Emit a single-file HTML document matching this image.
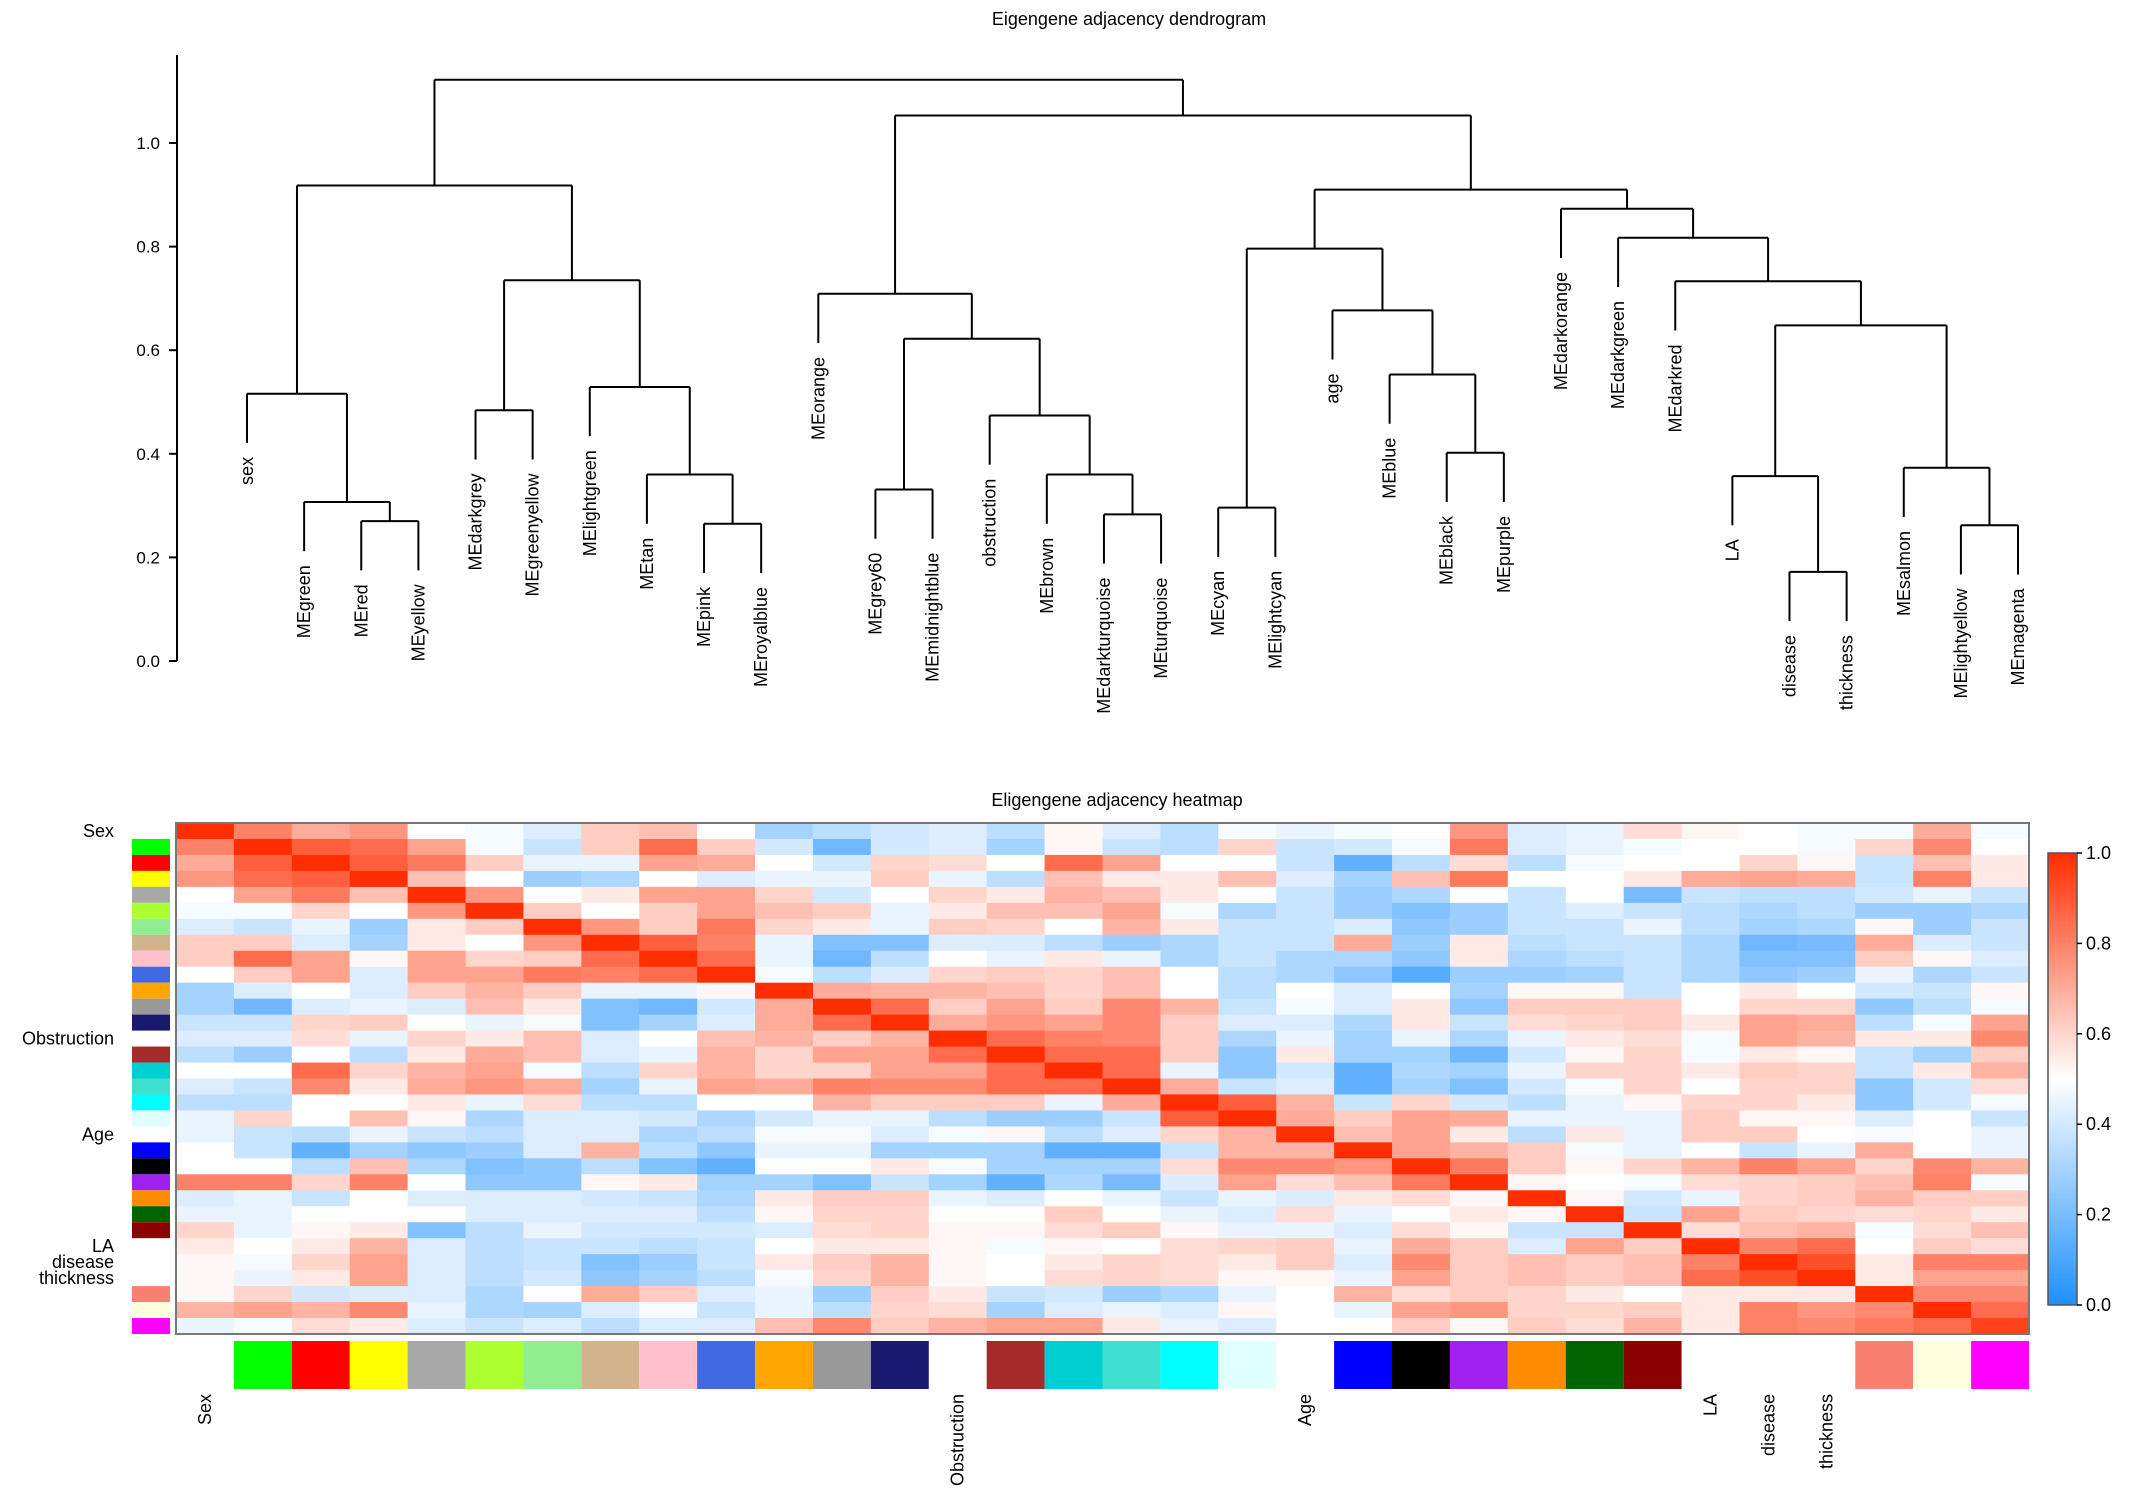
<!DOCTYPE html>
<html><head><meta charset="utf-8">
<style>
html,body{margin:0;padding:0;background:#fff;}
svg{display:block;font-family:"Liberation Sans",sans-serif;}
</style></head>
<body>
<svg id="chart" width="2150" height="1504" viewBox="0 0 2150 1504" xmlns="http://www.w3.org/2000/svg">
<text x="1129" y="25" font-size="18" text-anchor="middle">Eigengene adjacency dendrogram</text>
<text x="1117" y="806" font-size="18" text-anchor="middle">Eligengene adjacency heatmap</text>
<g id="dend"></g>
<g id="heat"></g>
<g id="cbar"></g>
</svg>
<script>
const leafLabels=["sex","MEgreen","MEred","MEyellow","MEdarkgrey","MEgreenyellow","MElightgreen","MEtan","MEpink","MEroyalblue","MEorange","MEgrey60","MEmidnightblue","obstruction","MEbrown","MEdarkturquoise","MEturquoise","MEcyan","MElightcyan","age","MEblue","MEblack","MEpurple","MEdarkorange","MEdarkgreen","MEdarkred","LA","disease","thickness","MEsalmon","MElightyellow","MEmagenta"];
const mergeLeft=[-3,-2,-1,-5,-9,-8,-7,4,3,-12,-16,-15,-14,10,-11,-18,-22,-21,-20,16,-28,-27,-31,-30,22,-26,-25,-24,20,15,9];
const mergeRight=[-4,1,2,-6,-10,5,6,7,8,-13,-17,11,12,13,14,-19,-23,17,18,19,-29,21,-32,23,24,25,26,27,28,29,30];
const mergeHeight=[.27,.307,.516,.484,.265,.36,.529,.735,.918,.331,.283,.36,.474,.622,.709,.296,.402,.553,.677,.796,.172,.357,.262,.373,.648,.733,.817,.873,.910,1.053,1.122];
const yTicks=[0,0.2,0.4,0.6,0.8,1.0];

const rowLabels=["Sex","","","","","","","","","","","","","Obstruction","","","","","","Age","","","","","","","LA","disease","thickness","","",""];
const moduleColors=[null,"#00ff00","#ff0000","#ffff00","#a9a9a9","#adff2f","#90ee90","#d2b48c","#ffc0cb","#4169e1","#ffa500","#999999","#191970",null,"#a52a2a","#00ced1","#40e0d0","#00ffff","#e0ffff",null,"#0000ff","#000000","#a020f0","#ff8c00","#006400","#8b0000",null,null,null,"#fa8072","#ffffe0","#ff00ff"];
const adj=[
[1.0,.8,.7,.75,.5,.48,.42,.62,.65,.5,.3,.35,.4,.42,.35,.52,.42,.35,.48,.45,.48,.5,.75,.42,.45,.58,.52,.5,.48,.48,.7,.48],
[.8,1.0,.88,.85,.72,.48,.38,.62,.85,.62,.4,.18,.4,.42,.3,.52,.38,.35,.6,.38,.4,.48,.82,.42,.45,.48,.5,.5,.48,.6,.78,.5],
[.7,.88,1.0,.88,.82,.62,.45,.45,.72,.7,.5,.4,.6,.58,.5,.85,.72,.5,.5,.38,.15,.35,.58,.35,.48,.5,.5,.6,.52,.38,.65,.55],
[.75,.85,.88,1.0,.65,.5,.28,.32,.5,.42,.45,.45,.62,.45,.35,.65,.55,.55,.65,.42,.3,.65,.82,.5,.5,.55,.7,.72,.7,.38,.8,.55],
[.5,.72,.82,.65,1.0,.75,.5,.55,.72,.72,.6,.4,.5,.6,.55,.68,.65,.55,.5,.38,.28,.32,.5,.38,.5,.2,.38,.35,.35,.4,.45,.38],
[.48,.48,.6,.5,.75,1.0,.62,.5,.62,.72,.65,.62,.45,.55,.65,.65,.72,.48,.32,.38,.28,.22,.28,.38,.42,.38,.35,.32,.35,.28,.28,.32],
[.42,.38,.45,.28,.55,.62,1.0,.75,.62,.82,.6,.55,.45,.62,.6,.5,.68,.55,.38,.38,.42,.25,.28,.38,.38,.45,.35,.3,.32,.52,.28,.38],
[.62,.62,.42,.3,.55,.5,.75,1.0,.88,.8,.45,.22,.22,.42,.42,.35,.28,.32,.38,.38,.7,.28,.55,.35,.38,.38,.32,.18,.2,.7,.42,.38],
[.62,.85,.72,.52,.72,.6,.62,.85,1.0,.85,.45,.18,.35,.5,.45,.55,.45,.32,.38,.32,.32,.25,.55,.32,.35,.38,.32,.22,.22,.62,.52,.42],
[.5,.62,.72,.42,.72,.72,.82,.8,.85,1.0,.48,.35,.42,.6,.62,.6,.65,.5,.35,.32,.25,.12,.28,.28,.3,.38,.32,.25,.28,.45,.32,.38],
[.3,.42,.5,.42,.62,.68,.62,.45,.45,.52,1.0,.7,.68,.68,.65,.6,.65,.5,.35,.5,.42,.5,.3,.52,.52,.38,.5,.55,.5,.4,.38,.52],
[.3,.18,.42,.45,.42,.65,.55,.22,.18,.4,.7,1.0,.85,.62,.72,.62,.78,.68,.38,.48,.42,.55,.25,.62,.62,.62,.5,.6,.6,.25,.35,.48],
[.38,.38,.6,.62,.5,.45,.48,.22,.3,.42,.7,.85,1.0,.7,.75,.72,.78,.62,.42,.42,.32,.55,.38,.58,.6,.62,.55,.72,.7,.35,.48,.72],
[.42,.42,.58,.45,.6,.55,.65,.42,.5,.65,.68,.62,.68,1.0,.85,.8,.78,.62,.32,.45,.3,.45,.32,.45,.55,.58,.48,.72,.68,.55,.55,.78],
[.35,.28,.5,.35,.55,.7,.65,.42,.45,.68,.6,.72,.72,.85,1.0,.85,.85,.62,.25,.55,.3,.3,.18,.4,.52,.6,.48,.55,.52,.38,.3,.62],
[.5,.5,.85,.6,.68,.72,.48,.35,.6,.68,.6,.6,.72,.72,.85,1.0,.85,.45,.25,.4,.15,.32,.3,.45,.6,.6,.55,.62,.6,.38,.55,.68],
[.42,.38,.78,.55,.7,.75,.7,.3,.45,.72,.7,.8,.78,.78,.85,.85,1.0,.7,.38,.42,.15,.3,.22,.4,.48,.6,.5,.6,.6,.25,.4,.58],
[.35,.35,.5,.5,.55,.45,.58,.35,.35,.5,.5,.68,.62,.62,.62,.45,.7,1.0,.88,.68,.38,.6,.4,.35,.45,.52,.6,.6,.55,.25,.4,.48],
[.45,.6,.5,.65,.52,.32,.42,.42,.4,.32,.4,.45,.45,.35,.28,.28,.38,.88,1.0,.7,.62,.72,.7,.45,.45,.45,.62,.52,.52,.42,.5,.38],
[.45,.38,.35,.45,.38,.35,.42,.42,.32,.35,.48,.48,.42,.48,.52,.35,.42,.6,.68,1.0,.65,.72,.55,.35,.55,.45,.62,.62,.5,.48,.5,.45],
[.5,.38,.15,.3,.25,.28,.42,.68,.35,.25,.45,.45,.3,.3,.3,.15,.15,.38,.68,.68,1.0,.72,.68,.62,.48,.45,.5,.38,.45,.7,.5,.45],
[.5,.5,.35,.65,.32,.22,.25,.35,.22,.15,.5,.5,.55,.48,.3,.3,.3,.58,.78,.78,.75,1.0,.82,.62,.52,.6,.68,.8,.72,.6,.78,.68],
[.8,.8,.6,.8,.5,.25,.25,.52,.55,.3,.3,.22,.38,.3,.15,.32,.2,.42,.72,.58,.65,.82,1.0,.52,.5,.48,.58,.6,.62,.65,.8,.48],
[.42,.45,.38,.5,.42,.42,.42,.4,.38,.32,.55,.62,.62,.45,.42,.5,.45,.38,.45,.42,.55,.58,.52,1.0,.52,.4,.45,.6,.62,.68,.62,.62],
[.45,.45,.5,.5,.5,.42,.42,.42,.42,.35,.52,.6,.6,.5,.5,.62,.5,.45,.42,.58,.45,.5,.55,.52,1.0,.38,.72,.62,.6,.58,.6,.55],
[.6,.45,.52,.55,.22,.35,.45,.4,.4,.4,.42,.58,.6,.52,.52,.58,.62,.52,.45,.45,.42,.58,.52,.38,.38,1.0,.58,.65,.68,.48,.58,.65],
[.55,.5,.55,.68,.42,.35,.38,.38,.35,.38,.5,.55,.55,.52,.48,.52,.5,.58,.6,.62,.45,.7,.62,.42,.72,.62,1.0,.8,.85,.5,.62,.58],
[.52,.48,.6,.72,.42,.35,.38,.22,.28,.38,.55,.62,.68,.52,.5,.55,.6,.58,.55,.62,.42,.78,.62,.65,.62,.65,.8,1.0,.92,.55,.8,.8],
[.52,.45,.55,.72,.42,.35,.4,.25,.3,.35,.48,.6,.68,.52,.5,.58,.6,.58,.52,.52,.45,.72,.62,.65,.62,.65,.85,.92,1.0,.55,.72,.72],
[.52,.6,.4,.42,.42,.32,.5,.7,.62,.42,.45,.28,.62,.55,.38,.4,.28,.32,.45,.5,.68,.58,.62,.6,.55,.5,.55,.55,.55,1.0,.78,.78],
[.68,.72,.68,.78,.45,.32,.3,.42,.48,.38,.45,.35,.6,.58,.3,.42,.45,.42,.52,.5,.45,.72,.75,.6,.6,.62,.55,.8,.75,.78,1.0,.85],
[.45,.48,.58,.55,.42,.38,.42,.35,.42,.42,.65,.78,.62,.68,.72,.72,.55,.45,.42,.5,.5,.62,.52,.62,.58,.68,.55,.8,.78,.82,.85,.95]
];
const cbarTicks=[0,0.2,0.4,0.6,0.8,1.0];

const NS="http://www.w3.org/2000/svg";
function mk(tag,attrs,parent){const e=document.createElementNS(NS,tag);for(const k in attrs)e.setAttribute(k,attrs[k]);parent.appendChild(e);return e;}

// ---------- dendrogram ----------
const dend=document.getElementById('dend');
const leafX0=247, leafStep=57.13;
const yD=h=>661-h*518;
const hang=0.095;
const xL=i=>leafX0+i*leafStep;
// axis
const ax=mk('line',{x1:177,y1:55,x2:177,y2:yD(0),stroke:'#000','stroke-width':2},dend);


yTicks.forEach(t=>{
  const tk=mk('line',{x1:169,y1:yD(t),x2:177,y2:yD(t),stroke:'#000','stroke-width':2},dend);
  
  
  const tl=mk('text',{x:160,y:yD(t)+6,'font-size':17,'text-anchor':'end'},dend);
  tl.textContent=t.toFixed(1);
  
  
});
const nodeX=[], nodeH=[];
function childInfo(c){ if(c<0) return {x:xL(-c-1),leaf:true,i:-c-1}; return {x:nodeX[c-1],h:nodeH[c-1],leaf:false}; }
for(let m=0;m<mergeHeight.length;m++){
  const h=mergeHeight[m];
  const a=childInfo(mergeLeft[m]), b=childInfo(mergeRight[m]);
  nodeX.push((a.x+b.x)/2); nodeH.push(h);
  const y=yD(h);
  const hl=mk('line',{x1:a.x,y1:y,x2:b.x,y2:y,stroke:'#000','stroke-width':2},dend);
  
  
  [a,b].forEach(c=>{
    const yEnd=c.leaf?yD(h-hang):yD(c.h);
    const vl=mk('line',{x1:c.x,y1:y,x2:c.x,y2:yEnd,stroke:'#000','stroke-width':2},dend);
    
    
    if(c.leaf){
      const lt=mk('text',{transform:`translate(${c.x+6},${yEnd+14}) rotate(-90)`,'font-size':18,'text-anchor':'end'},dend);
      lt.textContent=leafLabels[c.i];
      
      
    }
  });
}

// ---------- heatmap ----------
const heat=document.getElementById('heat');
const hx0=176,hx1=2029,hy0=823,hy1=1334;
const n=adj.length, cw=(hx1-hx0)/n, ch=(hy1-hy0)/n;
function colorFor(v){
  const blue=[30,144,255], white=[255,255,255], red=[255,45,0];
  let c;
  if(v<=0.5){const t=v/0.5;c=blue.map((b,i)=>b+(white[i]-b)*t);}
  else{const t=(v-0.5)/0.5;c=white.map((w,i)=>w+(red[i]-w)*t);}
  return `rgb(${c.map(Math.round).join(',')})`;
}
for(let r=0;r<n;r++)for(let c=0;c<n;c++){
  const cell=mk('rect',{x:hx0+c*cw,y:hy0+r*ch,width:cw+0.6,height:ch+0.6,fill:colorFor(adj[r][c])},heat);
  
  
}
const fr=mk('rect',{x:hx0,y:hy0,width:hx1-hx0,height:hy1-hy0,fill:'none',stroke:'#777','stroke-width':2},heat);


for(let i=0;i<n;i++){
  if(moduleColors[i]){
    const ls=mk('rect',{x:132,y:hy0+i*ch,width:38,height:ch,fill:moduleColors[i]},heat);
    
    
    const bs=mk('rect',{x:hx0+i*cw,y:1341,width:cw,height:48,fill:moduleColors[i]},heat);
    
    
  }
  if(rowLabels[i]){
    const rl=mk('text',{x:114,y:hy0+(i+0.5)*ch+6,'font-size':18,'text-anchor':'end'},heat);
    rl.textContent=rowLabels[i];
    
    
    const cl=mk('text',{transform:`translate(${hx0+(i+0.5)*cw+6},1394) rotate(-90)`,'font-size':18,'text-anchor':'end'},heat);
    cl.textContent=rowLabels[i];
    
    
  }
}

// ---------- color bar ----------
const cbar=document.getElementById('cbar');
const cy0=853,cy1=1305,cx=2048,cwid=29;
const defs=mk('defs',{},cbar);
const lg=mk('linearGradient',{id:'cg',x1:0,y1:1,x2:0,y2:0},defs);
[0,0.25,0.5,0.75,1].forEach(v=>mk('stop',{offset:v,'stop-color':colorFor(v)},lg));
const cb=mk('rect',{x:cx,y:cy0,width:cwid,height:cy1-cy0,fill:'url(#cg)',stroke:'#555','stroke-width':1.5},cbar);


cbarTicks.forEach(t=>{
  const y=cy1-t*(cy1-cy0);
  const tk=mk('line',{x1:cx+cwid,y1:y,x2:cx+cwid+5,y2:y,stroke:'#000','stroke-width':1.5},cbar);
  
  
  const tl=mk('text',{x:cx+cwid+9,y:y+6,'font-size':18},cbar);
  tl.textContent=t.toFixed(1);
  
  
});
</script>
</body></html>
